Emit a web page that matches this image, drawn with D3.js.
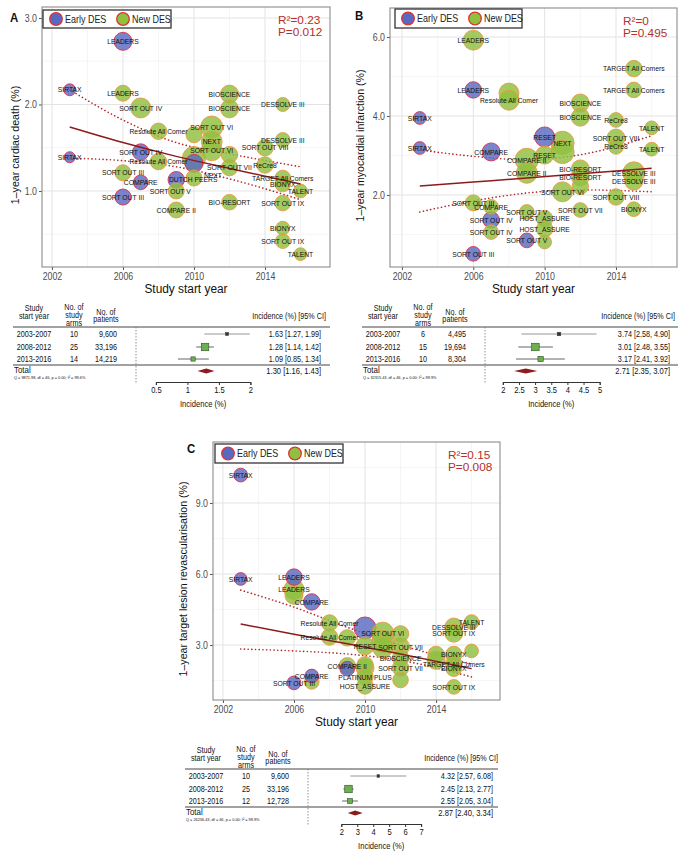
<!DOCTYPE html>
<html><head><meta charset="utf-8">
<script src="https://cdn.jsdelivr.net/npm/d3@7"></script>
<style>body{margin:0;background:#fff} text{font-family:"Liberation Sans",Arial,Helvetica,sans-serif}</style>
</head><body><script>
// ---------------- DATA ----------------
const yearTicks = [2002, 2006, 2010, 2014];
const yearMinor = [2004, 2008, 2012, 2016];
const legendLabels = ["Early DES", "New DES"];

// Panel A: 1-year cardiac death
const namesA = ["LEADERS","SIRTAX","LEADERS","SORT OUT IV","BIOSCIENCE","BIOSCIENCE","DESSOLVE III","SORT OUT VI","Resolute All Comer","NEXT","","DESSOLVE III","SORT OUT VIII","SORT OUT IV","SIRTAX","Resolute All Comer","SORT OUT VI","","","","SORT OUT VII","ReCre8","SORT OUT III","COMPARE","DUTCH PEERS","NEXT","TARGET All Comers","BIONYX","TALENT","SORT OUT V","SORT OUT III","COMPARE II","BIO-RESORT","SORT OUT IX","BIONYX","SORT OUT IX","TALENT"];
const groupsA = ["E","E","N","N","N","N","N","N","N","N","N","N","N","E","E","N","N","N","E","N","N","N","N","E","E","N","N","N","N","N","E","N","N","N","N","N","N"];
const yearsA = [2006,2003,2006,2007,2012,2012,2015,2011,2008,2011,2010,2015,2014,2007,2003,2008,2011,2010,2010,2012,2012,2014,2006,2007,2009,2010,2015,2015,2016,2009,2006,2009,2012,2015,2015,2015,2016];
const valuesA = [2.73,2.17,2.13,1.96,2.12,1.95,2.00,1.74,1.69,1.57,1.65,1.59,1.50,1.45,1.39,1.34,1.47,1.38,1.32,1.42,1.27,1.30,1.21,1.10,1.13,1.15,1.15,1.08,1.00,1.00,0.93,0.78,0.87,0.86,0.57,0.42,0.27];
const patientsA = [1200,530,950,1480,1200,1200,725,1790,1000,1600,950,800,1000,1000,450,1000,1600,2000,1200,1000,1000,1000,950,800,1000,950,900,900,700,950,950,950,900,900,700,800,600];
const fitYearsA = [2003,2006,2009,2012,2016];
const fitMidA = [1.74,1.56,1.40,1.26,1.08];
const fitUpA = [2.17,1.82,1.56,1.43,1.28];
const fitLoA = [1.38,1.35,1.28,1.14,0.90];
const statsA = ["R\u00b2=0.23","P=0.012"];
const yTicksA = [1.0,2.0,3.0];

// Panel B: 1-year myocardial infarction
const namesB = ["LEADERS","LEADERS","","Resolute All Comer","TARGET All Comers","TARGET All Comers","BIOSCIENCE","BIOSCIENCE","ReCre8","TALENT","SORT OUT VIII","ReCre8","TALENT","RESET","NEXT","","RESET","COMPARE II","COMPARE II","BIO-RESORT","BIO-RESORT","DESSOLVE III","DESSOLVE III","SORT OUT VIII","SORT OUT VI","","SORT OUT VII","BIONYX","SIRTAX","SIRTAX","COMPARE","SORT OUT III","COMPARE","SORT OUT IV","SORT OUT IV","SORT OUT V","HOST_ASSURE","HOST_ASSURE","SORT OUT V","","SORT OUT III"];
const groupsB = ["N","E","N","N","N","N","N","N","N","N","N","N","N","E","N","N","N","N","N","N","N","N","N","N","N","N","N","N","E","E","E","N","N","E","N","N","N","N","E","N","E"];
const yearsB = [2006,2006,2008,2008,2015,2015,2012,2012,2014,2016,2014,2014,2016,2010,2011,2011,2010,2009,2009,2012,2012,2015,2015,2014,2011,2012,2012,2015,2003,2003,2007,2006,2007,2007,2007,2009,2010,2010,2009,2010,2006];
const valuesB = [5.92,4.66,4.58,4.40,5.20,4.66,4.33,3.97,3.90,3.70,3.44,3.22,3.16,3.47,3.32,3.09,3.01,2.89,2.56,2.66,2.46,2.56,2.35,1.95,2.08,2.22,1.62,1.64,3.95,3.19,3.09,1.80,1.70,1.37,1.06,1.57,1.40,1.14,0.85,0.81,0.51];
const patientsB = [1480,1000,1480,1480,1000,900,1200,1200,800,700,1200,800,700,1480,2000,2000,1200,2000,1600,1200,1200,1790,1200,1000,1480,1000,800,800,600,600,1200,950,800,1000,800,800,1000,1000,800,700,800];
const fitYearsB = [2003,2006,2009,2012,2016];
const fitMidB = [2.23,2.33,2.43,2.54,2.68];
const fitUpB = [3.14,2.98,2.89,3.02,3.50];
const fitLoB = [1.57,1.85,2.05,2.13,2.08];
const statsB = ["R\u00b2=0","P=0.495"];
const yTicksB = [2.0,4.0,6.0];

// Panel C: 1-year target lesion revascularisation
const namesC = ["SIRTAX","SIRTAX","LEADERS","LEADERS","","COMPARE","Resolute All Comer","Resolute All Comer","","","RESET","SORT OUT VI","","","","SORT OUT VII","BIOSCIENCE","SORT OUT VII","","","COMPARE II","","","PLATINUM PLUS","HOST_ASSURE","COMPARE","","SORT OUT III","TALENT","DESSOLVE III","SORT OUT IX","","","","BIONYX","TARGET All Comers","BIONYX","SORT OUT IX"];
const groupsC = ["E","E","E","N","N","E","N","N","N","E","N","N","N","N","N","N","N","N","N","E","N","N","N","N","N","E","N","E","N","N","N","N","N","N","N","N","N","N"];
const yearsC = [2003,2003,2006,2006,2006,2007,2008,2008,2009,2010,2010,2011,2011,2011,2012,2012,2012,2012,2012,2009,2009,2010,2010,2010,2010,2007,2007,2006,2016,2015,2015,2016,2014,2014,2015,2015,2015,2015];
const valuesC = [10.18,5.79,5.87,5.35,5.10,4.82,3.93,3.34,3.30,3.72,2.96,3.50,3.15,2.90,3.47,2.92,2.45,2.03,1.52,2.00,2.12,2.16,2.03,1.65,1.27,1.69,1.44,1.40,3.97,3.76,3.50,2.75,2.60,2.35,2.60,2.20,2.00,1.23];
const patientsC = [700,600,1000,1480,1200,1000,1000,1000,1000,1790,1200,1790,1790,1600,1000,1200,1000,1000,900,800,1000,1000,1200,1000,1000,700,800,700,800,1200,1200,700,1000,1200,1000,1000,900,800];
const fitYearsC = [2003,2006,2009,2012,2016];
const fitMidC = [3.89,3.45,3.05,2.62,2.00];
const fitUpC = [5.32,4.60,3.75,3.00,2.20];
const fitLoC = [2.83,2.75,2.62,2.35,1.65];
const statsC = ["R\u00b2=0.15","P=0.008"];
const yTicksC = [3.0,6.0,9.0];

// Forest tables
const periods = ["2003-2007","2008-2012","2013-2016"];
const armsA = [10,25,14], nPatA = ["9,600","33,196","14,219"];
const estA = [1.63,1.28,1.09], loA = [1.27,1.14,0.85], hiA = [1.99,1.42,1.34];
const totalA = [1.30,1.16,1.43];
const qA = "Q = 9871.98, df = 46, p = 0.00; I\u00b2 = 99.6%";
const fTicksA = [0.5,1,1.5,2];

const armsB = [6,15,10], nPatB = ["4,495","19,694","8,304"];
const estB = [3.74,3.01,3.17], loB = [2.58,2.48,2.41], hiB = [4.90,3.55,3.92];
const totalB = [2.71,2.35,3.07];
const qB = "Q = 32315.43, df = 46, p = 0.00; I\u00b2 = 99.9%";
const fTicksB = [2,2.5,3,3.5,4,4.5,5];

const armsC = [10,25,12], nPatC = ["9,600","33,196","12,728"];
const estC = [4.32,2.45,2.55], loC = [2.57,2.13,2.05], hiC = [6.08,2.77,3.04];
const totalC = [2.87,2.40,3.34];
const qC = "Q = 26236.43, df = 46, p = 0.00; I\u00b2 = 99.9%";
const fTicksC = [2,3,4,5,6,7];

// ---------------- LAYOUT / DRAWING ----------------
const W = 689, H = 854;
const svg = d3.select("body").append("svg").attr("width", W).attr("height", H);
const FILL = {E: "#5a69c0", N: "#90c040"};
const STROKE = {E: "#d8344e", N: "#e99a45"};
const rScale = d3.scaleSqrt().domain([0, 2500]).range([0, 13]);
// label nudges (layout only): "panel:index" -> [dx, dy]
const labelNudge = {"A:24": [17, 0], "A:25": [19, -3], "A:29": [-6, 0]};

function bubblePanel(cfg, d) {
  const p = cfg.plot;
  const g = svg.append("g");
  const x = d3.scaleLinear().domain(cfg.xDom).range([p.l, p.r]);
  const y = d3.scaleLinear().domain(cfg.yDom).range([p.b, p.t]);
  g.append("rect").attr("x", p.l).attr("y", p.t).attr("width", p.r - p.l).attr("height", p.b - p.t).attr("fill", "#fff");
  const step = d.yTicks[1] - d.yTicks[0];
  const yMin = [];
  for (let v = d.yTicks[0] - step / 2; v < cfg.yDom[1]; v += step) if (v > cfg.yDom[0]) yMin.push(v);
  g.selectAll(".gmx").data(yearMinor).join("line").attr("x1", v => x(v)).attr("x2", v => x(v)).attr("y1", p.t).attr("y2", p.b).attr("stroke", "#f0f0f0").attr("stroke-width", 0.7);
  g.selectAll(".gmy").data(yMin).join("line").attr("y1", v => y(v)).attr("y2", v => y(v)).attr("x1", p.l).attr("x2", p.r).attr("stroke", "#f0f0f0").attr("stroke-width", 0.7);
  g.selectAll(".gx").data(yearTicks).join("line").attr("x1", v => x(v)).attr("x2", v => x(v)).attr("y1", p.t).attr("y2", p.b).attr("stroke", "#e3e3e3").attr("stroke-width", 1);
  g.selectAll(".gy").data(d.yTicks).join("line").attr("y1", v => y(v)).attr("y2", v => y(v)).attr("x1", p.l).attr("x2", p.r).attr("stroke", "#e3e3e3").attr("stroke-width", 1);

  const xa = g.append("g").attr("transform", `translate(0,${p.b})`).call(d3.axisBottom(x).tickValues(yearTicks).tickFormat(d3.format("d")).tickSize(3).tickPadding(3));
  const ya = g.append("g").attr("transform", `translate(${p.l},0)`).call(d3.axisLeft(y).tickValues(d.yTicks).tickFormat(d3.format(".1f")).tickSize(3).tickPadding(2));
  [xa, ya].forEach(a => {
    a.select(".domain").remove();
    a.selectAll("text").attr("font-size", 10).attr("fill", "#4d4d4d").attr("font-family", "Liberation Sans, Arial");
    a.selectAll("line").attr("stroke", "#555");
  });
  g.append("rect").attr("x", p.l).attr("y", p.t).attr("width", p.r - p.l).attr("height", p.b - p.t).attr("fill", "none").attr("stroke", "#8c8c8c").attr("stroke-width", 1.1);

  const line = d3.line().x(v => x(v[0])).y(v => y(v[1])).curve(d3.curveMonotoneX);
  const mk = arr => d.fitYears.map((yr, i) => [yr, arr[i]]);
  [d.fitUp, d.fitLo].forEach(arr => g.append("path").attr("d", line(mk(arr))).attr("fill", "none").attr("stroke", "#b3262a").attr("stroke-width", 1.6).attr("stroke-dasharray", "0.1,3.6").attr("stroke-linecap", "round"));

  const pts = d.names.map((n, i) => ({name: n, i, g: d.groups[i], yr: d.years[i], v: d.values[i], n: d.patients[i]}));
  const order = pts.slice().sort((a, b) => b.n - a.n);
  g.selectAll(".b").data(order).join("circle")
    .attr("cx", o => x(o.yr)).attr("cy", o => y(o.v)).attr("r", o => rScale(o.n))
    .attr("fill", o => FILL[o.g]).attr("fill-opacity", 0.82)
    .attr("stroke", o => STROKE[o.g]).attr("stroke-width", 0.9);

  g.append("path").attr("d", line(mk(d.fitMid))).attr("fill", "none").attr("stroke", "#8e1b1b").attr("stroke-width", 1.5);

  g.selectAll(".lab").data(pts.filter(o => o.name)).join("text")
    .attr("x", o => x(o.yr) + ((labelNudge[cfg.letter[0] + ":" + o.i] || [0, 0])[0]))
    .attr("y", o => y(o.v) + ((labelNudge[cfg.letter[0] + ":" + o.i] || [0, 0])[1])).attr("dy", "0.35em")
    .attr("text-anchor", "middle").attr("font-size", 7.7).attr("fill", "#111").text(o => o.name);

  const L = cfg.legend;
  g.append("rect").attr("x", L.x).attr("y", L.y).attr("width", L.w).attr("height", L.h).attr("fill", "#fff").attr("stroke", "#333").attr("stroke-width", 1.3);
  const lx = [L.x + 13, L.x + 80];
  ["E", "N"].forEach((k, i) => {
    g.append("circle").attr("cx", lx[i]).attr("cy", L.y + L.h / 2).attr("r", 6.3).attr("fill", FILL[k]).attr("stroke", "#e0302f").attr("stroke-width", 1.3);
    g.append("text").attr("x", lx[i] + 9).attr("y", L.y + L.h / 2).attr("dy", "0.36em").attr("font-size", 10.2).attr("fill", "#222").text(legendLabels[i]);
  });
  d.stats.forEach((s, i) => g.append("text").attr("class", "nosq").attr("x", cfg.statX).attr("y", p.t + 13 + i * 12).attr("dy", "0.35em").attr("font-size", 11.8).attr("fill", "#b5302a").text(s));
  g.append("text").attr("x", cfg.letter[1]).attr("y", cfg.letter[2]).attr("dy", "0.35em").attr("font-size", 13).attr("font-weight", "bold").attr("fill", "#111").text(cfg.letter[0]);
  g.append("text").attr("class", "nosq").attr("transform", `translate(${cfg.ytitleX},${(p.t + p.b) / 2 + 8}) rotate(-90)`).attr("text-anchor", "middle").attr("dy", "0.35em").attr("font-size", 10.6).attr("fill", "#111").text(d.ytitle);
  g.append("text").attr("x", (p.l + p.r) / 2).attr("y", p.b + 21).attr("dy", "0.35em").attr("text-anchor", "middle").attr("font-size", 13.5).attr("fill", "#111").text("Study start year");
}

function forest(cfg, d) {
  const T = cfg.table, Hh = T.H;
  const g = svg.append("g");
  const txt = (x, y, s, anchor, size) => g.append("text").attr("x", x).attr("y", y).attr("dy", "0.35em").attr("text-anchor", anchor || "start").attr("font-size", size || 8.2).attr("fill", "#111").text(s);
  const cYear = T.l + 21, cArms = T.l + 61, cPat = T.l + 104, cDash = T.l + 123, cCI = T.l + 308;
  txt(cYear, Hh - 19, "Study", "middle"); txt(cYear, Hh - 11, "start year", "middle");
  txt(cArms, Hh - 20, "No. of", "middle"); txt(cArms, Hh - 12, "study", "middle"); txt(cArms, Hh - 4, "arms", "middle");
  txt(cPat - 11, Hh - 15, "No. of", "middle"); txt(cPat - 11, Hh - 8, "patients", "middle");
  txt(cCI + 5, Hh - 11, "Incidence (%) [95% CI]", "end");
  g.append("line").attr("x1", T.l).attr("x2", T.r).attr("y1", Hh).attr("y2", Hh).attr("stroke", "#444").attr("stroke-width", 1);
  g.append("line").attr("x1", T.l).attr("x2", T.r).attr("y1", Hh + 38).attr("y2", Hh + 38).attr("stroke", "#444").attr("stroke-width", 1);
  g.append("line").attr("x1", cDash).attr("x2", cDash).attr("y1", Hh).attr("y2", Hh + 56).attr("stroke", "#777").attr("stroke-width", 0.8).attr("stroke-dasharray", "1.5,1.5");
  const fx = d3.scaleLinear().domain(cfg.fDom).range(cfg.fRange);
  const rowY = [Hh + 7, Hh + 20, Hh + 32];
  const wts = d.est.map((e, i) => 1 / Math.pow(d.hi[i] - d.lo[i], 2));
  const sq = d3.scaleSqrt().domain([0, d3.max(wts)]).range([0, 7.5]);
  periods.forEach((per, i) => {
    const yy = rowY[i];
    txt(cYear, yy, per, "middle");
    txt(cArms, yy, d.arms[i], "middle");
    txt(cPat, yy, d.npat[i], "end");
    txt(cCI, yy, `${d.est[i].toFixed(2)} [${d.lo[i].toFixed(2)}, ${d.hi[i].toFixed(2)}]`, "end");
    g.append("line").attr("x1", fx(d.lo[i])).attr("x2", fx(d.hi[i])).attr("y1", yy).attr("y2", yy).attr("stroke", i === 0 ? "#8a8a8a" : "#555").attr("stroke-width", 0.9);
    const s = Math.max(2.6, sq(wts[i]));
    g.append("rect").attr("x", fx(d.est[i]) - s / 2).attr("y", yy - s / 2).attr("width", s).attr("height", s)
      .attr("fill", i === 0 ? "#333" : "#6cb04e").attr("stroke", "#2f4f2f").attr("stroke-width", 0.6);
  });
  const ty = Hh + 44;
  txt(T.l + 1, ty - 1, "Total", "start", 9);
  txt(T.l + 1, ty + 6, d.q, "start", 4.4);
  txt(cCI, ty, `${d.total[0].toFixed(2)} [${d.total[1].toFixed(2)}, ${d.total[2].toFixed(2)}]`, "end", 8.6);
  g.append("path").attr("d", `M${fx(d.total[1])},${ty} L${fx(d.total[0])},${ty - 2.5} L${fx(d.total[2])},${ty} L${fx(d.total[0])},${ty + 2.5} Z`).attr("fill", "#8e1b1b");
  const ax = g.append("g").attr("transform", `translate(0,${Hh + 55})`).call(d3.axisBottom(fx).tickValues(d.ticks).tickFormat(d3.format("")).tickSize(3).tickPadding(2));
  ax.selectAll("text").attr("font-size", 8.6).attr("fill", "#111").attr("font-family", "Liberation Sans, Arial");
  ax.selectAll("line").attr("stroke", "#333");
  ax.select(".domain").attr("stroke", "#333");
  txt(d3.mean(cfg.fRange), Hh + 77, "Incidence  (%)", "middle", 8.6);
}

const cfgA = {letter: ["A", 10, 17], plot: {l: 42, r: 330, t: 7, b: 267}, xDom: [2001.44, 2017.66], yDom: [0.121, 3.127], ytitleX: 15, legend: {x: 43, y: 10, w: 128, h: 18}, statX: 278,
  table: {l: 13, r: 330, H: 327}, fDom: [0.5, 2], fRange: [155.9, 250.4]};
const cfgB = {letter: ["B", 355, 15], plot: {l: 390, r: 677, t: 8, b: 267}, xDom: [2001.33, 2017.42], yDom: [0.177, 6.734], ytitleX: 360, legend: {x: 395, y: 9, w: 127, h: 19}, statX: 623,
  table: {l: 362, r: 678, H: 327}, fDom: [2, 5], fRange: [502.8, 599.7]};
const cfgC = {letter: ["C", 187, 448], plot: {l: 213, r: 500, t: 442, b: 700}, xDom: [2001.44, 2017.6], yDom: [0.676, 11.577], ytitleX: 183, legend: {x: 215, y: 444, w: 128, h: 19}, statX: 448,
  table: {l: 185, r: 498, H: 769}, fDom: [2, 7], fRange: [341.3, 421.1]};

bubblePanel(cfgA, {names: namesA, groups: groupsA, years: yearsA, values: valuesA, patients: patientsA, fitYears: fitYearsA, fitMid: fitMidA, fitUp: fitUpA, fitLo: fitLoA, stats: statsA, yTicks: yTicksA, ytitle: "1\u2013year cardiac death (%)"});
bubblePanel(cfgB, {names: namesB, groups: groupsB, years: yearsB, values: valuesB, patients: patientsB, fitYears: fitYearsB, fitMid: fitMidB, fitUp: fitUpB, fitLo: fitLoB, stats: statsB, yTicks: yTicksB, ytitle: "1\u2013year myocardial infarction (%)"});
bubblePanel(cfgC, {names: namesC, groups: groupsC, years: yearsC, values: valuesC, patients: patientsC, fitYears: fitYearsC, fitMid: fitMidC, fitUp: fitUpC, fitLo: fitLoC, stats: statsC, yTicks: yTicksC, ytitle: "1\u2013year target lesion revascularisation (%)"});

forest(cfgA, {arms: armsA, npat: nPatA, est: estA, lo: loA, hi: hiA, total: totalA, q: qA, ticks: fTicksA});
forest(cfgB, {arms: armsB, npat: nPatB, est: estB, lo: loB, hi: hiB, total: totalB, q: qB, ticks: fTicksB});
forest(cfgC, {arms: armsC, npat: nPatC, est: estC, lo: loC, hi: hiC, total: totalC, q: qC, ticks: fTicksC});

// horizontal squeeze of text to match the reference's narrow lettering
svg.selectAll("text").each(function () {
  const t = d3.select(this);
  if (t.classed("nosq")) return;
  const x = +t.attr("x") || 0, s = 0.88;
  t.attr("transform", `translate(${x * (1 - s)},0) scale(${s},1)`);
});
</script></body></html>
